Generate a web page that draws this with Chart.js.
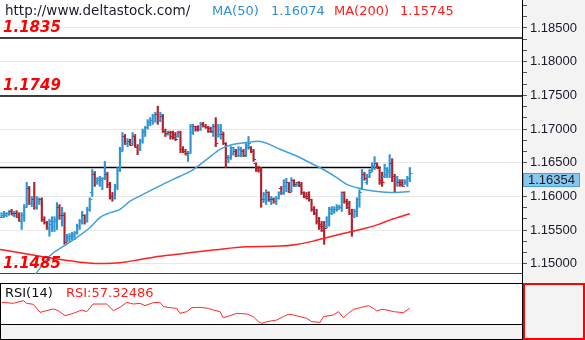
<!DOCTYPE html>
<html>
<head>
<meta charset="utf-8">
<script src="https://cdn.jsdelivr.net/npm/chart.js@4.4.1/dist/chart.umd.min.js"></script>
<style>
  body { margin: 0; background: #f3f3f3; }
  #wrap { position: relative; width: 585px; height: 340px; overflow: hidden;
          font-family: "DejaVu Sans", sans-serif; font-size: 13px; }
  canvas { position: absolute; left: 0; }
  #main { top: 0; }
  #rsi { top: 283px; }
  .lbl { position: absolute; white-space: nowrap; line-height: 15px; }
</style>
</head>
<body>
<div id="wrap">
  <canvas id="main" width="585" height="283"></canvas>
  <canvas id="rsi" width="585" height="57"></canvas>
  <div class="lbl" style="left:5px;top:3px;color:#1c1c2c;font-size:13.5px">http://www.deltastock.com/</div>
  <div class="lbl" style="left:212px;top:3px;color:#2e8fd6">MA(50)</div>
  <div class="lbl" id="ma50Txt" style="left:271px;top:3px;color:#2e8fd6"></div>
  <div class="lbl" style="left:334px;top:3px;color:#ff1c1c">MA(200)</div>
  <div class="lbl" id="ma200Txt" style="left:400px;top:3px;color:#ff1c1c"></div>
  <div class="lbl" style="left:5px;top:285px;color:#111">RSI(14)</div>
  <div class="lbl" id="rsiTxt" style="left:66px;top:285px;color:#ff1c1c"></div>
</div>
<script>
// EURUSD bars, oldest first
const opens = [
  1.1570, 1.1570, 1.1572, 1.1576, 1.1578, 1.1573, 1.1576, 1.1570, 1.1564, 1.1573,
  1.1585, 1.1613, 1.1591, 1.1597, 1.1584, 1.1594, 1.1596, 1.1566, 1.1562, 1.1553,
  1.1559, 1.1556, 1.1563, 1.1584, 1.1570, 1.1573, 1.1536, 1.1539, 1.1541, 1.1542,
  1.1548, 1.1556, 1.1563, 1.1572, 1.1563, 1.1581, 1.1606, 1.1634, 1.1622, 1.1625,
  1.1625, 1.1627, 1.1633, 1.1618, 1.1600, 1.1598, 1.1615, 1.1640, 1.1670, 1.1689,
  1.1679, 1.1683, 1.1679, 1.1689, 1.1674, 1.1670, 1.1682, 1.1695, 1.1703, 1.1711,
  1.1713, 1.1719, 1.1722, 1.1714, 1.1720, 1.1697, 1.1692, 1.1695, 1.1695, 1.1692,
  1.1689, 1.1695, 1.1670, 1.1668, 1.1662, 1.1665, 1.1695, 1.1704, 1.1704, 1.1700,
  1.1708, 1.1705, 1.1703, 1.1701, 1.1695, 1.1704, 1.1689, 1.1692, 1.1692, 1.1680,
  1.1655, 1.1658, 1.1665, 1.1668, 1.1662, 1.1662, 1.1667, 1.1665, 1.1674, 1.1674,
  1.1667, 1.1650, 1.1643, 1.1639, 1.1593, 1.1596, 1.1606, 1.1594, 1.1597, 1.1593,
  1.1598, 1.1612, 1.1606, 1.1615, 1.1621, 1.1610, 1.1624, 1.1616, 1.1621, 1.1618,
  1.1606, 1.1601, 1.1600, 1.1596, 1.1582, 1.1576, 1.1564, 1.1559, 1.1556, 1.1556,
  1.1563, 1.1576, 1.1578, 1.1581, 1.1582, 1.1584, 1.1606, 1.1593, 1.1590, 1.1576,
  1.1570, 1.1578, 1.1596, 1.1613, 1.1634, 1.1622, 1.1631, 1.1640, 1.1645, 1.1649,
  1.1643, 1.1625, 1.1630, 1.1633, 1.1637, 1.1650, 1.1630, 1.1621, 1.1622, 1.1622,
  1.1618, 1.1621, 1.1627
];
const highs = [
  1.1576, 1.1578, 1.1576, 1.1579, 1.1581, 1.1578, 1.1579, 1.1576, 1.1576, 1.1588,
  1.1621, 1.1615, 1.1600, 1.1621, 1.1600, 1.1598, 1.1598, 1.1570, 1.1563, 1.1566,
  1.1570, 1.1570, 1.1591, 1.1588, 1.1584, 1.1576, 1.1544, 1.1545, 1.1547, 1.1548,
  1.1559, 1.1566, 1.1578, 1.1573, 1.1584, 1.1598, 1.1640, 1.1637, 1.1628, 1.1630,
  1.1628, 1.1652, 1.1636, 1.1621, 1.1606, 1.1618, 1.1643, 1.1673, 1.1695, 1.1692,
  1.1686, 1.1685, 1.1695, 1.1692, 1.1677, 1.1685, 1.1700, 1.1704, 1.1714, 1.1717,
  1.1722, 1.1725, 1.1734, 1.1725, 1.1722, 1.1700, 1.1697, 1.1697, 1.1697, 1.1695,
  1.1697, 1.1697, 1.1674, 1.1670, 1.1667, 1.1707, 1.1707, 1.1704, 1.1705, 1.1710,
  1.1710, 1.1707, 1.1704, 1.1703, 1.1707, 1.1717, 1.1707, 1.1707, 1.1695, 1.1680,
  1.1661, 1.1674, 1.1673, 1.1670, 1.1674, 1.1673, 1.1670, 1.1680, 1.1689, 1.1674,
  1.1670, 1.1650, 1.1645, 1.1643, 1.1606, 1.1610, 1.1607, 1.1600, 1.1598, 1.1600,
  1.1607, 1.1615, 1.1625, 1.1627, 1.1621, 1.1628, 1.1625, 1.1621, 1.1622, 1.1621,
  1.1607, 1.1606, 1.1607, 1.1596, 1.1585, 1.1581, 1.1569, 1.1563, 1.1563, 1.1570,
  1.1584, 1.1585, 1.1585, 1.1588, 1.1587, 1.1607, 1.1607, 1.1596, 1.1593, 1.1581,
  1.1581, 1.1598, 1.1610, 1.1640, 1.1636, 1.1633, 1.1640, 1.1650, 1.1659, 1.1650,
  1.1643, 1.1636, 1.1648, 1.1643, 1.1662, 1.1656, 1.1633, 1.1630, 1.1625, 1.1625,
  1.1625, 1.1630, 1.1643
];
const lows = [
  1.1569, 1.1569, 1.1570, 1.1572, 1.1573, 1.1570, 1.1569, 1.1563, 1.1551, 1.1563,
  1.1584, 1.1588, 1.1585, 1.1581, 1.1581, 1.1588, 1.1563, 1.1559, 1.1551, 1.1541,
  1.1548, 1.1548, 1.1551, 1.1566, 1.1556, 1.1529, 1.1533, 1.1533, 1.1536, 1.1536,
  1.1544, 1.1551, 1.1559, 1.1559, 1.1562, 1.1578, 1.1600, 1.1615, 1.1618, 1.1615,
  1.1610, 1.1625, 1.1613, 1.1596, 1.1593, 1.1596, 1.1610, 1.1637, 1.1667, 1.1677,
  1.1674, 1.1676, 1.1676, 1.1673, 1.1662, 1.1668, 1.1679, 1.1689, 1.1700, 1.1705,
  1.1707, 1.1710, 1.1707, 1.1711, 1.1695, 1.1689, 1.1691, 1.1685, 1.1685, 1.1683,
  1.1688, 1.1665, 1.1665, 1.1662, 1.1652, 1.1664, 1.1692, 1.1697, 1.1697, 1.1698,
  1.1703, 1.1701, 1.1695, 1.1695, 1.1689, 1.1674, 1.1688, 1.1685, 1.1677, 1.1643,
  1.1650, 1.1655, 1.1661, 1.1659, 1.1659, 1.1659, 1.1659, 1.1659, 1.1670, 1.1665,
  1.1652, 1.1637, 1.1636, 1.1584, 1.1591, 1.1588, 1.1593, 1.1588, 1.1590, 1.1588,
  1.1596, 1.1603, 1.1603, 1.1607, 1.1606, 1.1607, 1.1615, 1.1615, 1.1615, 1.1603,
  1.1598, 1.1596, 1.1593, 1.1578, 1.1573, 1.1559, 1.1551, 1.1548, 1.1529, 1.1553,
  1.1556, 1.1573, 1.1575, 1.1578, 1.1581, 1.1578, 1.1590, 1.1582, 1.1573, 1.1541,
  1.1569, 1.1570, 1.1584, 1.1610, 1.1624, 1.1618, 1.1628, 1.1637, 1.1640, 1.1642,
  1.1618, 1.1615, 1.1628, 1.1628, 1.1628, 1.1622, 1.1606, 1.1615, 1.1615, 1.1615,
  1.1618, 1.1615, 1.1622
];
const closes = [
  1.1572, 1.1575, 1.1576, 1.1578, 1.1575, 1.1576, 1.1570, 1.1564, 1.1573, 1.1585,
  1.1615, 1.1591, 1.1596, 1.1584, 1.1597, 1.1596, 1.1566, 1.1562, 1.1553, 1.1563,
  1.1563, 1.1566, 1.1584, 1.1573, 1.1576, 1.1533, 1.1541, 1.1542, 1.1544, 1.1547,
  1.1556, 1.1563, 1.1573, 1.1563, 1.1581, 1.1596, 1.1637, 1.1622, 1.1627, 1.1628,
  1.1627, 1.1637, 1.1618, 1.1600, 1.1598, 1.1616, 1.1639, 1.1668, 1.1689, 1.1679,
  1.1683, 1.1677, 1.1691, 1.1674, 1.1670, 1.1682, 1.1697, 1.1703, 1.1711, 1.1714,
  1.1719, 1.1722, 1.1714, 1.1722, 1.1697, 1.1694, 1.1695, 1.1689, 1.1688, 1.1686,
  1.1695, 1.1670, 1.1667, 1.1665, 1.1665, 1.1704, 1.1705, 1.1700, 1.1700, 1.1708,
  1.1704, 1.1703, 1.1697, 1.1697, 1.1704, 1.1680, 1.1700, 1.1697, 1.1680, 1.1658,
  1.1659, 1.1673, 1.1670, 1.1662, 1.1671, 1.1665, 1.1662, 1.1677, 1.1680, 1.1667,
  1.1655, 1.1640, 1.1639, 1.1596, 1.1603, 1.1607, 1.1596, 1.1598, 1.1593, 1.1598,
  1.1606, 1.1606, 1.1622, 1.1621, 1.1607, 1.1625, 1.1618, 1.1619, 1.1616, 1.1606,
  1.1600, 1.1598, 1.1596, 1.1581, 1.1576, 1.1563, 1.1556, 1.1551, 1.1553, 1.1569,
  1.1581, 1.1582, 1.1582, 1.1585, 1.1585, 1.1606, 1.1593, 1.1585, 1.1576, 1.1569,
  1.1578, 1.1596, 1.1607, 1.1636, 1.1627, 1.1630, 1.1637, 1.1646, 1.1649, 1.1645,
  1.1622, 1.1621, 1.1643, 1.1639, 1.1650, 1.1630, 1.1621, 1.1624, 1.1618, 1.1616,
  1.1622, 1.1628, 1.16354
];

// moving averages, sampled at bar positions
const ma50Pos = [13.3, 19.2, 24.5, 29.8, 35.1, 39.1, 43.1, 47.0, 51.0, 55.0, 60.2, 65.6, 70.8, 76.1, 81.4,
                 86.7, 90.7, 97.3, 101.9, 105.2, 110.5, 117.1, 122.4, 127.7, 133.0, 137.0, 141.0, 147.5, 154.2, 162];
const ma50Vals = [1.1484, 1.1512, 1.1526, 1.1539, 1.1554, 1.1569, 1.1576, 1.1581, 1.1593, 1.1601, 1.1611, 1.1621, 1.1630, 1.1640, 1.1655,
                  1.1670, 1.1676, 1.1680, 1.1682, 1.1679, 1.1670, 1.1660, 1.1650, 1.1640, 1.1628, 1.1618, 1.1613, 1.1608, 1.1606, 1.16074];
const ma200Pos = [-0.6, 7.3, 15.3, 23.2, 31.2, 39.1, 47.0, 55.0, 62.9, 70.8, 84.0, 97.3, 110.5, 117.1, 123.7,
                  130.4, 137.0, 143.6, 150.2, 154.2, 162];
const ma200Vals = [1.15215, 1.15166, 1.15115, 1.15066, 1.15026, 1.15007, 1.15017, 1.15066, 1.15115, 1.15148, 1.15205, 1.15255, 1.15264, 1.15289, 1.15338,
                   1.15404, 1.15463, 1.15520, 1.15594, 1.15653, 1.15745];

// RSI(14)
const rsiPos = [0.1, 4.7, 8.7, 10.0, 12.6, 15.3, 17.9, 20.6, 22.5, 25.2, 28.5, 31.8, 33.8, 36.4, 41.7, 44.4, 47.0, 49.7, 52.3, 55.0,
                56.9, 60.2, 62.9, 64.2, 66.9, 69.5, 70.8, 73.5, 75.5, 78.8, 82.1, 84.0, 86.7, 88.0, 90.7, 93.3, 97.3, 99.9, 101.9, 103.3,
                105.2, 109.2, 111.8, 113.8, 115.8, 118.5, 121.1, 123.1, 126.4, 127.7, 131.7, 133.7, 135.6, 137.6, 139.6, 142.3, 145.6, 147.5, 148.9, 150.9,
                152.9, 155.5, 159.5, 162];
const rsiVals = [67.0, 65.3, 69.8, 65.3, 63.6, 49.9, 52.8, 55.6, 52.8, 44.2, 48.2, 53.9, 51.1, 64.1, 64.1, 52.8, 58.5, 67.0, 64.1, 65.3,
                 61.3, 66.4, 67.0, 59.6, 57.9, 56.7, 48.2, 51.1, 57.9, 58.5, 56.7, 53.9, 51.1, 40.8, 44.2, 48.2, 47.1, 42.5, 34.0, 31.1,
                 34.0, 36.8, 42.5, 46.5, 45.4, 42.5, 39.7, 34.0, 32.8, 42.5, 45.4, 51.1, 40.8, 48.2, 55.0, 57.9, 61.3, 56.7, 52.2, 55.0,
                 53.9, 51.1, 49.3, 57.32486];

// horizontal levels with their captions, plus the short line ending at bar 150
const levelVals = [1.1835, 1.1749, 1.1485];
const levelText = ['1.1835', '1.1749', '1.1485'];
const shortLineVal = 1.1643;
const shortLineEnd = 150.5;

// price axis labels
const priceTicks = [1.150, 1.155, 1.160, 1.165, 1.170, 1.175, 1.180, 1.185];

const xMin = -0.6, xMax = 206.5;
const priceMin = 1.1485, priceMax = 1.18915;
const upColor = '#2f96d3', downColor = '#b0232e';
const last = closes.length - 1;

document.getElementById('ma50Txt').textContent = ma50Vals[ma50Vals.length - 1].toFixed(5);
document.getElementById('ma200Txt').textContent = ma200Vals[ma200Vals.length - 1].toFixed(5);
document.getElementById('rsiTxt').textContent = 'RSI:' + rsiVals[rsiVals.length - 1].toFixed(5);

const barColor = i => closes[i] >= opens[i] ? upColor : downColor;

// small marks between the labelled ticks
const axisTicks = [];
priceTicks.forEach(v => {
  axisTicks.push({ value: v, major: true });
  for (const k of [-2, -1, 1, 2]) {
    const m = +(v + k * 0.005 / 3).toFixed(6);
    if (m >= priceMin && m <= priceMax && !axisTicks.some(t => Math.abs(t.value - m) < 1e-6)) {
      axisTicks.push({ value: m, major: false });
    }
  }
});
axisTicks.sort((a, b) => a.value - b.value);

const mainPlugin = {
  id: 'mainDeco',
  beforeDraw(chart) {
    const { ctx, chartArea } = chart;
    ctx.save();
    ctx.fillStyle = '#fff';
    ctx.fillRect(0, 0, chartArea.right, chart.height);
    ctx.restore();
  },
  afterDatasetsDraw(chart) {
    const { ctx, chartArea, scales: { x, y } } = chart;
    ctx.save();
    ctx.beginPath();
    ctx.rect(chartArea.left, chartArea.top, chartArea.width, chartArea.height);
    ctx.clip();
    // open tick on the left, close tick on the right
    ctx.lineWidth = 1;
    for (let i = 0; i < closes.length; i++) {
      const px = x.getPixelForValue(i);
      const yo = Math.round(y.getPixelForValue(opens[i])) + 0.5;
      const yc = Math.round(y.getPixelForValue(closes[i])) + 0.5;
      ctx.strokeStyle = barColor(i);
      ctx.beginPath();
      ctx.moveTo(px - 2.5, yo); ctx.lineTo(px, yo);
      ctx.moveTo(px, yc); ctx.lineTo(px + 2.5, yc);
      ctx.stroke();
    }
    ctx.restore();

    // level captions
    ctx.save();
    ctx.font = 'italic bold 15px "DejaVu Sans"';
    ctx.fillStyle = '#ff0000';
    ctx.textBaseline = 'alphabetic';
    levelVals.forEach((v, i) => {
      ctx.fillText(levelText[i], 3, y.getPixelForValue(v) - 6);
    });
    ctx.restore();
  },
  afterDraw(chart) {
    const { ctx, chartArea, scales: { y } } = chart;
    ctx.save();
    ctx.strokeStyle = '#000';
    ctx.lineWidth = 1;
    ctx.beginPath();
    ctx.moveTo(chartArea.right + 0.5, 0);
    ctx.lineTo(chartArea.right + 0.5, chart.height);
    ctx.stroke();

    // last price box
    const top = Math.round(y.getPixelForValue(closes[last]));
    ctx.fillStyle = '#86c8ee';
    ctx.fillRect(chartArea.right + 1, top, 57, 14);
    ctx.strokeStyle = '#4a9fd8';
    ctx.strokeRect(chartArea.right + 1.5, top + 0.5, 56, 13);
    ctx.fillStyle = '#1a1a2a';
    ctx.font = '13px "Liberation Sans"';
    ctx.textBaseline = 'middle';
    ctx.fillText(closes[last].toFixed(5), chartArea.right + 6, top + 7.5);
    ctx.restore();
  }
};

new Chart(document.getElementById('main'), {
  type: 'bar',
  data: {
    datasets: [
      {
        type: 'line',
        data: ma50Pos.map((p, i) => ({ x: p, y: ma50Vals[i] })),
        borderColor: '#44a0dc', borderWidth: 1.5, pointRadius: 0,
        cubicInterpolationMode: 'monotone', order: 0
      },
      {
        type: 'line',
        data: ma200Pos.map((p, i) => ({ x: p, y: ma200Vals[i] })),
        borderColor: '#ff2020', borderWidth: 1.5, pointRadius: 0,
        cubicInterpolationMode: 'monotone', order: 0
      },
      {
        type: 'bar',
        data: closes.map((c, i) => ({ x: i, y: [lows[i], highs[i]] })),
        backgroundColor: ctx => barColor(ctx.dataIndex),
        barThickness: 1.5, borderWidth: 0, order: 1
      },
      ...levelVals.map(v => ({
        type: 'line',
        data: [{ x: xMin, y: v }, { x: xMax, y: v }],
        borderColor: '#000', borderWidth: 1.5, pointRadius: 0, order: 2
      })),
      {
        type: 'line',
        data: [{ x: xMin, y: shortLineVal }, { x: shortLineEnd, y: shortLineVal }],
        borderColor: '#000', borderWidth: 1.5, pointRadius: 0, order: 2
      }
    ]
  },
  options: {
    responsive: false,
    animation: false,
    layout: { padding: { top: 0, left: 0, right: 0, bottom: 9 } },
    plugins: { legend: { display: false }, tooltip: { enabled: false } },
    scales: {
      x: { type: 'linear', display: false, min: xMin, max: xMax, offset: false },
      y: {
        position: 'right',
        min: priceMin,
        max: priceMax,
        afterBuildTicks: s => { s.ticks = axisTicks.map(t => ({ ...t })); },
        afterFit: s => { s.width = 63; s.paddingTop = 0; s.paddingBottom = 0; },
        border: { display: false },
        grid: {
          color: c => (c.tick && c.tick.major) ? '#e8e8e8' : 'rgba(0,0,0,0)',
          tickColor: '#555',
          tickLength: 5,
          lineWidth: 1
        },
        ticks: {
          autoSkip: false,
          padding: 3,
          color: '#1a1a2a',
          font: { family: 'Liberation Sans', size: 13 },
          callback: (v, i, ticks) => ticks[i].major ? v.toFixed(5) : ''
        }
      }
    }
  },
  plugins: [mainPlugin]
});

const rsiPlugin = {
  id: 'rsiDeco',
  beforeDraw(chart) {
    const { ctx, chartArea } = chart;
    ctx.save();
    ctx.fillStyle = '#fff';
    ctx.fillRect(chartArea.left, chartArea.top, chartArea.width, chartArea.height);
    ctx.restore();
  },
  afterDraw(chart) {
    const { ctx, chartArea } = chart;
    const r = chartArea.right;
    ctx.save();
    ctx.strokeStyle = '#000';
    ctx.lineWidth = 1;
    ctx.beginPath();
    ctx.moveTo(0, 0.5); ctx.lineTo(r, 0.5);
    ctx.moveTo(0, chartArea.bottom + 0.5); ctx.lineTo(r, chartArea.bottom + 0.5);
    ctx.moveTo(0, chart.height - 0.5); ctx.lineTo(r, chart.height - 0.5);
    ctx.moveTo(0.5, 0); ctx.lineTo(0.5, chart.height);
    ctx.moveTo(r + 0.5, 0); ctx.lineTo(r + 0.5, chart.height);
    ctx.stroke();
    ctx.strokeStyle = '#ff0000';
    ctx.lineWidth = 2;
    ctx.strokeRect(r + 2, 1, chart.width - r - 3, chart.height - 2);
    ctx.restore();
  }
};

new Chart(document.getElementById('rsi'), {
  type: 'line',
  data: {
    datasets: [{
      data: rsiPos.map((p, i) => ({ x: p, y: rsiVals[i] })),
      borderColor: '#ff2a2a', borderWidth: 1, pointRadius: 0, tension: 0
    }]
  },
  options: {
    responsive: false,
    animation: false,
    layout: { padding: { top: 0, left: 0, right: 63, bottom: 16 } },
    plugins: { legend: { display: false }, tooltip: { enabled: false } },
    scales: {
      x: { type: 'linear', display: false, min: xMin, max: xMax },
      y: { display: false, min: 30, max: 100 }
    }
  },
  plugins: [rsiPlugin]
});
</script>
</body>
</html>
